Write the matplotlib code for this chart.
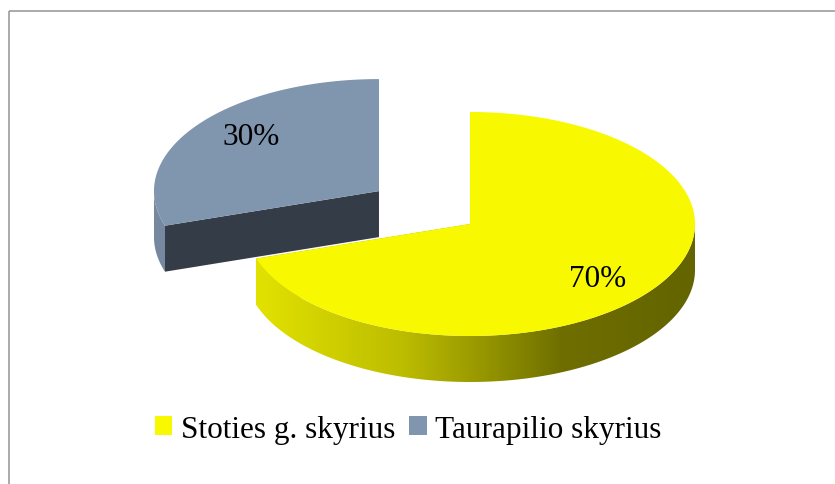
import matplotlib
matplotlib.use("Agg")
import matplotlib.pyplot as plt
import numpy as np
from matplotlib.patches import Polygon, Patch, Rectangle
from matplotlib.colors import LinearSegmentedColormap

# data
labels = ["Stoties g. skyrius", "Taurapilio skyrius"]
values = [70, 30]
top_colors = ["#F8F800", "#8095AE"]
wall_colors = [None, "#7688A0"]
cut_colors = ["#B0B000", "#343C48"]
explode = [0.0, 0.5]

# 3d pie geometry in pixel space
cx, cy = 470, 225
rx, ry = 225, 112
depth = 46

plt.rcParams['font.family'] = ['Liberation Serif', 'DejaVu Serif']

fig = plt.figure(figsize=(8.35, 4.85), dpi=100)
ax = fig.add_axes([0, 0, 1, 1])
ax.set_xlim(0, 835)
ax.set_ylim(485, 0)
ax.axis('off')

# chart frame (cut at the right and bottom)
ax.add_patch(Rectangle((8.5, 11.5), 900, 600, fill=False, ec="#9C9C9C", lw=1.2))

yellow_wall = LinearSegmentedColormap.from_list(
    "yw", [(0.0, "#E2E200"), (0.33, "#BDBD00"), (0.5, "#9A9A00"),
           (0.7, "#6E6E00"), (1.0, "#646400")])


def pt(ox, oy, th, r=1.0):
    return ox + r * rx * np.cos(th), oy - r * ry * np.sin(th)


total = sum(values)
start = np.pi / 2
for i, v in enumerate(values):
    sweep = 2 * np.pi * v / total
    t1, t2 = start, start - sweep
    mid = (t1 + t2) / 2
    ox = cx + explode[i] * rx * np.cos(mid)
    oy = cy - explode[i] * ry * np.sin(mid)
    th = np.linspace(t1, t2, 300)
    ax_, ay_ = pt(ox, oy, th)

    # cut faces
    for e in (t1, t2):
        ex, ey = pt(ox, oy, e)
        quad = [(ox, oy), (ex, ey), (ex, ey + depth), (ox, oy + depth)]
        ax.add_patch(Polygon(quad, closed=True, fc=cut_colors[i], ec="none"))

    # outer wall (front half only)
    front = np.sin(th) <= 0
    if front.any():
        wx, wy = ax_[front], ay_[front]
        wall = list(zip(wx, wy)) + list(zip(wx[::-1], wy[::-1] + depth))
        if wall_colors[i] is None:
            poly = Polygon(wall, closed=True, fc="none", ec="none")
            ax.add_patch(poly)
            grad = np.linspace(0, 1, 256).reshape(1, -1)
            im = ax.imshow(grad, cmap=yellow_wall, aspect='auto',
                           extent=[wx.min(), wx.max(), wy.max() + depth, wy.min()],
                           zorder=1)
            im.set_clip_path(poly)
        else:
            ax.add_patch(Polygon(wall, closed=True, fc=wall_colors[i], ec="none"))

    # top face
    top = [(ox, oy)] + list(zip(ax_, ay_))
    ax.add_patch(Polygon(top, closed=True, fc=top_colors[i], ec="none", zorder=2))

    lx, ly = pt(ox, oy, mid - np.radians(4.5), 0.745)
    ax.text(lx, ly, f"{v / total * 100:.0f}%", ha='center', va='center',
            fontsize=22.5, color='black', zorder=3)
    start = t2

handles = [Patch(fc=c, ec="none") for c in top_colors]
fig.legend(handles, labels, loc='center', bbox_to_anchor=(0.489, 0.113),
           ncol=2, frameon=False, fontsize=22.5, handlelength=0.55,
           handleheight=0.55, handletextpad=0.27, columnspacing=0.45,
           borderpad=0)

fig.savefig("out.png", dpi=100)
